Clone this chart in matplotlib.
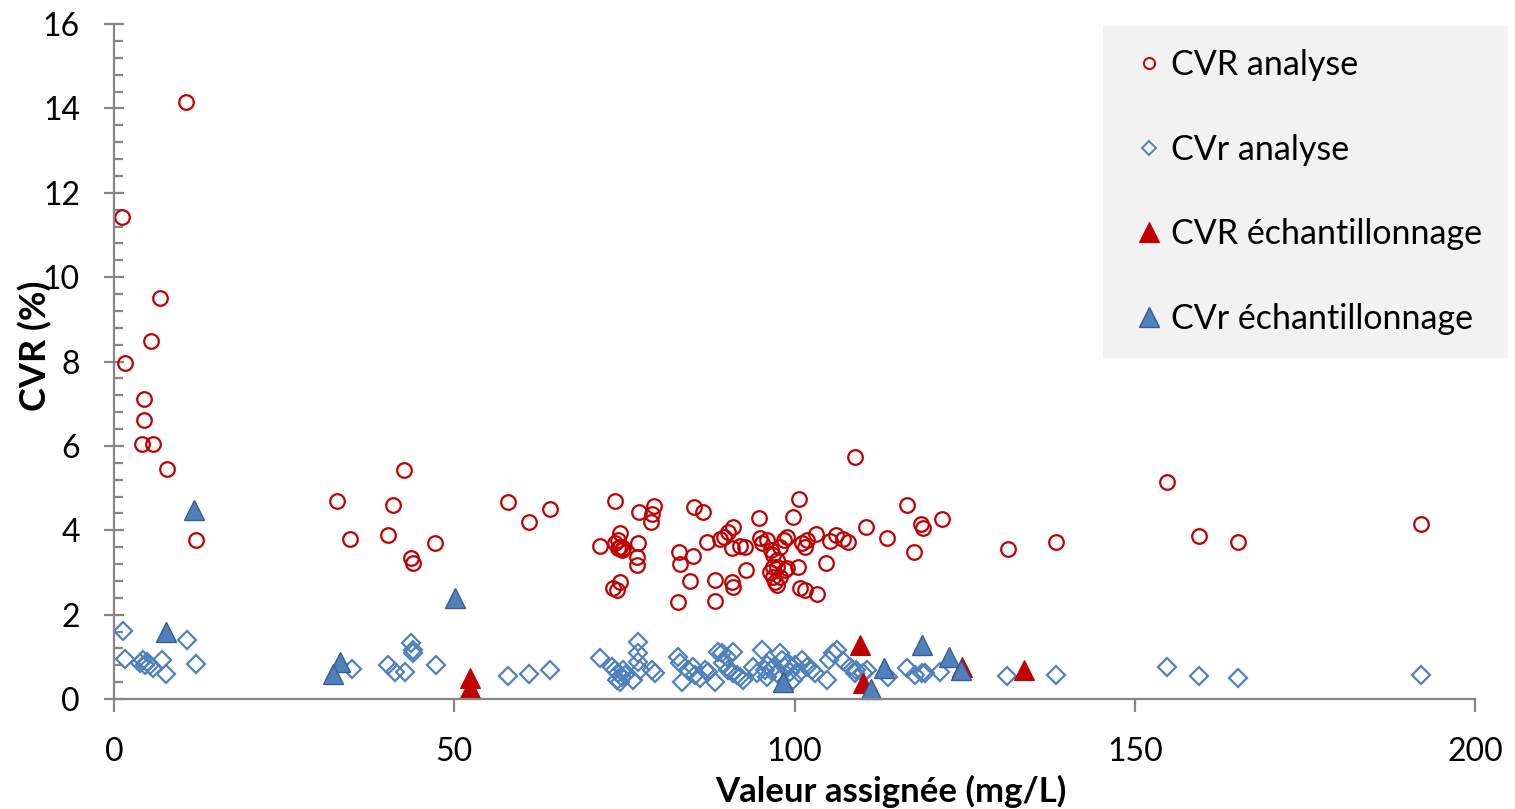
import matplotlib
matplotlib.use('Agg')
import matplotlib.pyplot as plt
from matplotlib.lines import Line2D
from matplotlib.patches import Rectangle
from matplotlib.ticker import MultipleLocator

plt.rcParams['font.family'] = ['Lato', 'DejaVu Sans']

# CVR analyse (red circles)
cvr_an_x = [1.2, 10.6, 6.8, 1.6, 5.4, 4.4, 4.4, 4.1, 5.7, 7.8, 12.0,
            32.8, 34.7, 42.6, 41.0, 40.3, 43.6, 43.9, 47.2, 57.9, 61.0, 64.1,
            71.4, 73.6, 73.6, 74.1, 74.4, 74.8, 74.0, 74.6, 74.4, 74.3, 73.3, 73.9,
            77.0, 76.9, 76.9, 77.1, 79.4, 79.0, 78.9,
            82.9, 83.0, 83.2, 85.1, 84.6, 85.2, 86.6, 88.3, 88.3, 87.1,
            89.1, 89.6, 90.2, 91.0, 90.8, 92.0, 92.7, 90.8, 91.0, 92.9,
            94.8, 94.9, 95.2, 96.0,
            96.6, 96.9, 97.4, 96.8, 97.4, 97.9, 98.4, 98.9, 96.4, 96.9, 97.1, 97.4, 97.9, 98.6, 98.9,
            99.8, 100.7, 100.5, 100.8, 101.5, 101.1, 101.5, 101.8, 103.2, 103.3, 104.6,
            105.2, 106.1, 107.1, 107.9, 108.9, 110.5, 113.6,
            116.5, 118.6, 118.9, 121.7, 117.6, 131.4, 138.4, 154.7, 159.4, 165.2, 192.1]
cvr_an_y = [11.42, 14.15, 9.50, 7.96, 8.49, 7.11, 6.61, 6.04, 6.04, 5.45, 3.77,
            4.69, 3.79, 5.43, 4.60, 3.89, 3.34, 3.22, 3.70, 4.67, 4.20, 4.50,
            3.63, 4.69, 3.69, 3.77, 3.61, 3.57, 3.57, 3.53, 3.93, 2.78, 2.62, 2.58,
            3.69, 3.37, 3.18, 4.43, 4.57, 4.38, 4.20,
            2.30, 3.48, 3.20, 3.39, 2.80, 4.55, 4.43, 2.82, 2.32, 3.72,
            3.79, 3.84, 3.96, 4.08, 3.58, 3.63, 3.60, 2.77, 2.65, 3.06,
            4.29, 3.82, 3.70, 3.77,
            3.53, 3.41, 3.29, 3.14, 3.14, 3.61, 3.77, 3.85, 3.02, 2.90, 2.78, 2.70, 2.90, 3.06, 3.10,
            4.31, 4.74, 3.13, 2.63, 2.58, 3.70, 3.60, 3.77, 3.91, 2.49, 3.22,
            3.74, 3.89, 3.79, 3.72, 5.74, 4.08, 3.82,
            4.60, 4.15, 4.05, 4.27, 3.48, 3.55, 3.73, 5.15, 3.86, 3.73, 4.15]

# CVr analyse (blue diamonds)
cvr_low_an_x = [1.3, 1.6, 3.8, 4.3, 4.8, 5.3, 5.8, 7.0, 7.7, 10.7, 12.0, 4.6,
                35.0, 40.3, 41.3, 42.8, 43.6, 43.9, 43.9, 47.3, 57.9, 61.0, 64.1,
                71.4, 73.2, 73.6, 74.1, 74.6, 74.8, 73.9, 74.4, 75.1, 77.0, 77.0, 77.0, 77.3, 76.3,
                79.1, 79.5,
                82.9, 83.2, 83.5, 84.4, 85.1, 85.4, 86.1, 86.9, 87.3, 88.3,
                88.8, 89.3, 90.1, 91.0, 89.5, 90.2, 91.0, 91.5, 92.0, 92.4,
                93.9, 94.5, 95.2, 95.7,
                95.9, 96.6, 97.4, 97.8, 98.1, 98.6, 99.3, 99.8, 100.6, 101.1, 101.8, 102.5, 103.0,
                96.0, 97.0, 99.0, 100.0,
                105.0, 105.7, 106.2, 107.2, 108.2, 109.1, 110.1, 104.8, 108.9, 110.6,
                113.7, 116.5, 117.7, 118.7, 119.2, 121.4, 131.2, 138.4, 154.7, 159.4, 165.2, 192.1]
cvr_low_an_y = [1.62, 0.95, 0.85, 0.92, 0.88, 0.81, 0.73, 0.92, 0.59, 1.41, 0.82, 0.80,
                0.71, 0.81, 0.64, 0.64, 1.33, 1.16, 1.09, 0.81, 0.55, 0.59, 0.69,
                0.97, 0.76, 0.69, 0.61, 0.53, 0.69, 0.45, 0.41, 0.57, 1.35, 1.09, 0.88, 0.69, 0.45,
                0.69, 0.61,
                1.00, 0.85, 0.41, 0.69, 0.76, 0.57, 0.50, 0.69, 0.64, 0.41,
                1.11, 1.09, 1.00, 1.11, 0.85, 0.69, 0.61, 0.57, 0.52, 0.45,
                0.76, 0.61, 1.16, 0.69,
                0.53, 0.69, 0.61, 1.08, 0.92, 0.77, 0.65, 0.45, 0.61, 0.92, 0.77, 0.69, 0.61,
                0.80, 0.75, 0.85, 0.80,
                0.92, 1.08, 1.16, 0.90, 0.77, 0.69, 0.61, 0.45, 0.62, 0.69,
                0.52, 0.73, 0.57, 0.62, 0.62, 0.64, 0.55, 0.57, 0.76, 0.55, 0.50, 0.57]

# CVR échantillonnage (red triangles)
cvr_ech_x = [52.3, 52.3, 109.6, 110.1, 124.6, 133.7]
cvr_ech_y = [0.50, 0.26, 1.28, 0.38, 0.76, 0.69]

# CVr échantillonnage (blue triangles)
cvr_low_ech_x = [11.8, 7.6, 33.2, 32.2, 50.1, 98.3, 111.2, 113.2, 118.7, 122.7, 124.5]
cvr_low_ech_y = [4.48, 1.59, 0.88, 0.59, 2.39, 0.40, 0.24, 0.73, 1.28, 1.00, 0.69]

red = '#C00000'
blue_edge = '#4F81BD'
blue_fill = '#4F81BD'
blue_dark = '#385D8A'
grey = '#868686'

fig = plt.figure(figsize=(15.15, 8.09), dpi=100)
ax = fig.add_axes([0.07525, 0.13597, 0.89835, 0.83436])

ax.plot(cvr_an_x, cvr_an_y, linestyle='none', marker='o', markersize=10.5,
        markerfacecolor='none', markeredgecolor=red, markeredgewidth=1.6, clip_on=False)
ax.plot(cvr_low_an_x, cvr_low_an_y, linestyle='none', marker='D', markersize=9,
        markerfacecolor='none', markeredgecolor=blue_edge, markeredgewidth=1.6, clip_on=False)
ax.plot(cvr_ech_x, cvr_ech_y, linestyle='none', marker='^', markersize=14.5,
        markerfacecolor=red, markeredgecolor=red, markeredgewidth=0.8, clip_on=False)
ax.plot(cvr_low_ech_x, cvr_low_ech_y, linestyle='none', marker='^', markersize=14.5,
        markerfacecolor=blue_fill, markeredgecolor=blue_dark, markeredgewidth=1.0, clip_on=False)

ax.set_xlim(0, 200)
ax.set_ylim(0, 16)
ax.xaxis.set_major_locator(MultipleLocator(50))
ax.yaxis.set_major_locator(MultipleLocator(2))
ax.yaxis.set_minor_locator(MultipleLocator(0.4))

for side in ['top', 'right']:
    ax.spines[side].set_visible(False)
for side in ['left', 'bottom']:
    ax.spines[side].set_color(grey)
    ax.spines[side].set_linewidth(1.6)

ax.tick_params(axis='x', which='major', direction='out', length=9, width=1.6,
               color=grey, labelsize=23, pad=18)
ax.tick_params(axis='y', which='major', direction='inout', length=15, width=1.6,
               color=grey, labelsize=23, pad=17)
ax.tick_params(axis='y', which='minor', direction='in', length=6.5, width=1.6, color=grey)

ax.set_xlabel('Valeur assignée (mg/L)', fontsize=25, fontweight='bold')
ax.set_ylabel('CVR (%)', fontsize=26, fontweight='bold')
ax.xaxis.set_label_coords(0.571, -0.113)
ax.yaxis.set_label_coords(-0.0455, 0.524)

# legend panel
fig.patches.append(Rectangle((1103 / 1515, 1 - 358 / 809), 405 / 1515, 332 / 809,
                             transform=fig.transFigure, facecolor='#F2F2F2',
                             edgecolor='none', zorder=0))
handles = [
    Line2D([], [], linestyle='none', marker='o', markersize=8, markerfacecolor='none',
           markeredgecolor=red, markeredgewidth=1.4),
    Line2D([], [], linestyle='none', marker='D', markersize=7.5, markerfacecolor='none',
           markeredgecolor=blue_edge, markeredgewidth=1.4),
    Line2D([], [], linestyle='none', marker='^', markersize=14.5, markerfacecolor=red,
           markeredgecolor=red, markeredgewidth=0.8),
    Line2D([], [], linestyle='none', marker='^', markersize=14.5, markerfacecolor=blue_fill,
           markeredgecolor=blue_dark, markeredgewidth=1.0),
]
labels = ['CVR analyse', 'CVr analyse', 'CVR échantillonnage', 'CVr échantillonnage']
fig.legend(handles, labels, loc='center left', bbox_to_anchor=(1115 / 1515, 1 - 192 / 809),
           frameon=False, fontsize=24.5, borderpad=0, handlelength=1.0,
           handletextpad=0.15, labelspacing=1.55)

fig.savefig('out.png', dpi=100)
